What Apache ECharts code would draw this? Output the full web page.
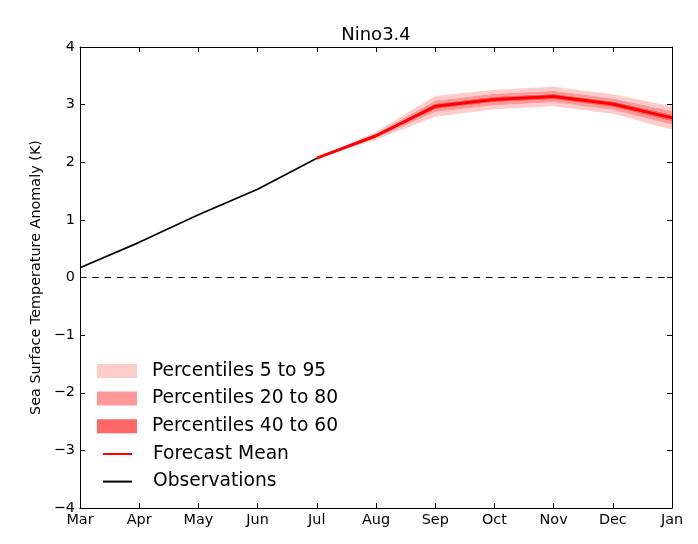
<!DOCTYPE html>
<html>
<head>
<meta charset="utf-8">
<script src="https://cdn.jsdelivr.net/npm/echarts@6/dist/echarts.min.js"></script>
<style>
  html, body { margin: 0; padding: 0; background: #fff; }
  #chart { width: 698px; height: 544px; }
</style>
</head>
<body>
<div id="chart"></div>
<script>
var months = ['Mar', 'Apr', 'May', 'Jun', 'Jul', 'Aug', 'Sep', 'Oct', 'Nov', 'Dec', 'Jan'];
var observations = [0.17, 0.61, 1.09, 1.53, 2.07, '-', '-', '-', '-', '-', '-'];
// forecast starts at Jul (index 4)
var forecastMean = [2.07, 2.46, 2.97, 3.09, 3.14, 3.01, 2.77];
var p5  = [2.07, 2.39, 2.79, 2.92, 2.97, 2.84, 2.57];
var p20 = [2.07, 2.42, 2.87, 2.99, 3.04, 2.91, 2.65];
var p40 = [2.07, 2.44, 2.92, 3.04, 3.09, 2.96, 2.71];
var p60 = [2.07, 2.48, 3.02, 3.14, 3.19, 3.06, 2.83];
var p80 = [2.07, 2.50, 3.07, 3.19, 3.24, 3.11, 2.89];
var p95 = [2.07, 2.53, 3.15, 3.26, 3.31, 3.18, 2.97];
var forecastStart = 4;

function pad(arr) {
  var out = [];
  for (var i = 0; i < forecastStart; i++) out.push('-');
  return out.concat(arr);
}
function diff(a, b) {
  return a.map(function (v, i) { return +(v - b[i]).toFixed(3); });
}

var font = 'DejaVu Sans';
var chartDom = document.getElementById('chart');
var myChart = echarts.init(chartDom);

function band(name, values, color) {
  return {
    name: name,
    type: 'line',
    stack: 'band',
    data: pad(values),
    color: color,
    symbol: 'none',
    lineStyle: { width: 0, opacity: 0 },
    areaStyle: { color: color, opacity: 1 },
    silent: true,
    z: 1
  };
}

var legendText = { fontFamily: font, fontSize: 18.7, lineHeight: 19, color: '#000' };

var option = {
  animation: false,
  textStyle: { fontFamily: font },
  title: {
    text: 'Nino3.4',
    left: 376,
    textAlign: 'center',
    top: 26,
    padding: 0,
    textStyle: { fontFamily: font, fontSize: 18, fontWeight: 'normal', color: '#000' }
  },
  grid: { left: 80, right: 26, top: 47, bottom: 36, containLabel: false },
  legend: [
    {
      orient: 'vertical',
      left: 97,
      top: 361.5,
      padding: 0,
      itemWidth: 40,
      itemHeight: 14,
      itemGap: 8.6,
      selectedMode: false,
      icon: 'rect',
      itemStyle: { borderWidth: 0 },
      textStyle: Object.assign({ padding: [0, 0, 0, 10] }, legendText),
      data: ['Percentiles 5 to 95', 'Percentiles 20 to 80', 'Percentiles 40 to 60']
    },
    {
      orient: 'vertical',
      left: 102,
      top: 444.5,
      padding: 0,
      itemWidth: 29,
      itemHeight: 14,
      itemGap: 8.6,
      selectedMode: false,
      itemStyle: { opacity: 0 },
      textStyle: Object.assign({ padding: [0, 0, 0, 16] }, legendText),
      data: ['Forecast Mean', 'Observations']
    }
  ],
  xAxis: [
    {
      type: 'category',
      data: months,
      boundaryGap: false,
      axisLine: { onZero: false, lineStyle: { color: '#000', width: 1 } },
      axisTick: { inside: true, length: 5, lineStyle: { color: '#000' } },
      axisLabel: { color: '#000', fontSize: 14.4, margin: 5, fontFamily: font },
      splitLine: { show: false }
    },
    {
      type: 'category',
      data: months,
      position: 'top',
      boundaryGap: false,
      axisLine: { onZero: false, lineStyle: { color: '#000', width: 1 } },
      axisTick: { inside: true, length: 5, lineStyle: { color: '#000' } },
      axisLabel: { show: false },
      splitLine: { show: false }
    }
  ],
  yAxis: [
    {
      type: 'value',
      min: -4,
      max: 4,
      interval: 1,
      name: 'Sea Surface Temperature Anomaly (K)',
      nameLocation: 'middle',
      nameGap: 37,
      nameTextStyle: { color: '#000', fontSize: 14.4, fontFamily: font },
      axisLine: { show: true, onZero: false, lineStyle: { color: '#000', width: 1 } },
      axisTick: { show: true, inside: true, length: 5, lineStyle: { color: '#000' } },
      axisLabel: {
        color: '#000', fontSize: 14.4, margin: 5, fontFamily: font,
        formatter: function (v) { return v < 0 ? '\u2212' + (-v) : String(v); }
      },
      splitLine: { show: false }
    },
    {
      type: 'value',
      min: -4,
      max: 4,
      interval: 1,
      position: 'right',
      axisLine: { show: true, onZero: false, lineStyle: { color: '#000', width: 1 } },
      axisTick: { show: true, inside: true, length: 5, lineStyle: { color: '#000' } },
      axisLabel: { show: false },
      splitLine: { show: false }
    }
  ],
  series: [
    {
      name: 'base',
      type: 'line',
      stack: 'band',
      data: pad(p5),
      symbol: 'none',
      lineStyle: { width: 0, opacity: 0 },
      silent: true
    },
    band('Percentiles 5 to 95', diff(p20, p5), '#ffcccc'),
    band('Percentiles 20 to 80', diff(p40, p20), '#ff9999'),
    band('Percentiles 40 to 60', diff(p60, p40), '#ff6666'),
    band('Percentiles 20 to 80', diff(p80, p60), '#ff9999'),
    band('Percentiles 5 to 95', diff(p95, p80), '#ffcccc'),
    {
      name: 'Forecast Mean',
      type: 'line',
      data: pad(forecastMean),
      color: '#ff0000',
      symbol: 'none',
      lineStyle: { color: '#ff0000', width: 3 },
      z: 5
    },
    {
      name: 'Observations',
      type: 'line',
      data: observations,
      color: '#000',
      symbol: 'none',
      lineStyle: { color: '#000', width: 1.7 },
      z: 4,
      markLine: {
        silent: true,
        symbol: 'none',
        label: { show: false },
        lineStyle: { color: '#000', type: [6.5, 5.8], width: 1 },
        data: [{ yAxis: 0 }]
      }
    }
  ]
};

option && myChart.setOption(option);
</script>
</body>
</html>
